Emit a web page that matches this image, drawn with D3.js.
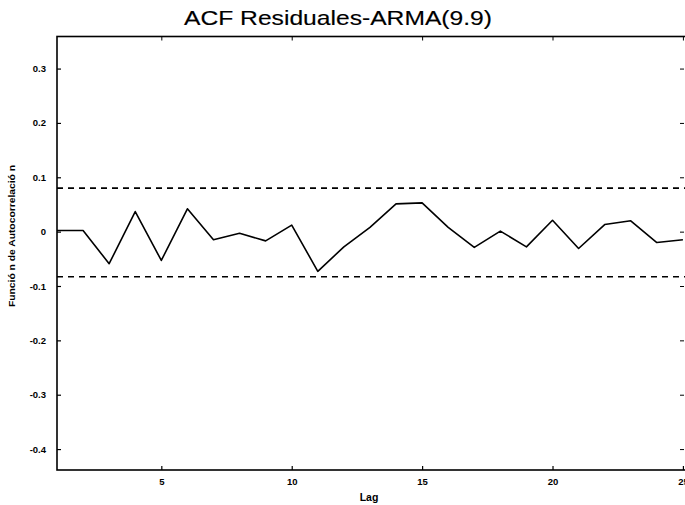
<!DOCTYPE html>
<html>
<head>
<meta charset="utf-8">
<script src="https://cdn.jsdelivr.net/npm/d3@7"></script>
<style>
  body { margin: 0; background: #fff; }
  svg { display: block; }
  .tick-lbl { font-family: "Liberation Sans", Arial, sans-serif; font-weight: bold; font-size: 9.5px; fill: #000; }
</style>
</head>
<body>
<div id="chart"></div>
<script>
// lags and autocorrelation of the residuals
const lags = [1,2,3,4,5,6,7,8,9,10,11,12,13,14,15,16,17,18,19,20,21,22,23,24,25];
const acf = [0.002,0.002,-0.059,0.037,-0.053,0.042,-0.015,-0.003,-0.017,0.012,-0.073,-0.028,0.008,0.051,0.053,0.008,-0.029,0.001,-0.028,0.021,-0.031,0.013,0.020,-0.020,-0.015];
// confidence bounds
const bounds = [0.080, -0.083];
const xTicks = [5, 10, 15, 20, 25];
const yTicks = [0.3, 0.2, 0.1, 0, -0.1, -0.2, -0.3, -0.4];
const yTickLabels = ["0.3", "0.2", "0.1", "0", "-0.1", "-0.2", "-0.3", "-0.4"];

const W = 685, H = 505;
const mLeft = 57, mTop = 36.5, mRight = 685, mBottom = 470;

const svg = d3.select("#chart").append("svg")
  .attr("width", W)
  .attr("height", H);

const x = d3.scaleLinear().domain([1, 25.08]).range([mLeft, mRight]);
const y = d3.scaleLinear().domain([-0.4385, 0.359]).range([mBottom, mTop]);

// title
svg.append("text")
  .attr("x", 338)
  .attr("y", 25)
  .attr("text-anchor", "middle")
  .attr("textLength", 308)
  .attr("lengthAdjust", "spacingAndGlyphs")
  .style("font-family", "Liberation Sans, Arial, sans-serif")
  .style("font-size", "21px")
  .style("stroke", "#000")
  .style("stroke-width", 0.15)
  .text("ACF Residuales-ARMA(9.9)");

// confidence lines
svg.selectAll(".bound")
  .data(bounds)
  .enter().append("line")
  .attr("class", "bound")
  .attr("x1", x(1))
  .attr("x2", mRight)
  .attr("y1", d => y(d))
  .attr("y2", d => y(d))
  .attr("stroke", "#000")
  .attr("stroke-width", 1.6)
  .attr("stroke-dasharray", "6,5");

// acf line
const line = d3.line()
  .x((d, i) => x(lags[i]))
  .y(d => y(d));

svg.append("path")
  .datum(acf)
  .attr("d", line)
  .attr("fill", "none")
  .attr("stroke", "#000")
  .attr("stroke-width", 1.6)
  .attr("stroke-linejoin", "round");

// axes box
svg.append("rect")
  .attr("x", mLeft)
  .attr("y", mTop)
  .attr("width", mRight + 2 - mLeft)
  .attr("height", mBottom - mTop)
  .attr("fill", "none")
  .attr("stroke", "#000")
  .attr("stroke-width", 1.6);

// x ticks (inside, bottom and top)
const xAxisB = d3.axisBottom(x).tickValues(xTicks).tickSize(-4).tickPadding(8).tickFormat(d3.format("d"));
const gx = svg.append("g").attr("transform", `translate(0,${mBottom})`).call(xAxisB);
gx.select(".domain").remove();
gx.selectAll("text").attr("class", "tick-lbl").attr("fill", null);
gx.selectAll("line").attr("stroke-width", 1.2);

const xAxisT = d3.axisTop(x).tickValues(xTicks).tickSize(-4).tickFormat("");
const gxt = svg.append("g").attr("transform", `translate(0,${mTop})`).call(xAxisT);
gxt.select(".domain").remove();

// y ticks (inside, left and right)
const yAxisL = d3.axisLeft(y).tickValues(yTicks).tickSize(-4).tickPadding(11)
  .tickFormat((d, i) => yTickLabels[i]);
const gy = svg.append("g").attr("transform", `translate(${mLeft},0)`).call(yAxisL);
gy.select(".domain").remove();
gy.selectAll("text").attr("class", "tick-lbl").attr("fill", null);
gy.selectAll("line").attr("stroke-width", 1.2);

const yAxisR = d3.axisRight(y).tickValues(yTicks).tickSize(-4).tickFormat("");
const gyr = svg.append("g").attr("transform", `translate(${mRight - 1},0)`).call(yAxisR);
gyr.select(".domain").remove();

// axis labels
svg.append("text")
  .attr("x", (mLeft + mRight) / 2 - 2)
  .attr("y", 501)
  .attr("text-anchor", "middle")
  .attr("class", "tick-lbl")
  .style("font-size", "10.5px")
  .text("Lag");

svg.append("text")
  .attr("transform", "translate(14.5,236) rotate(-90)")
  .attr("text-anchor", "middle")
  .attr("textLength", 142)
  .attr("lengthAdjust", "spacingAndGlyphs")
  .attr("class", "tick-lbl")
  .style("font-size", "9.5px")
  .text("Funció n de Autocorrelació n");
</script>
</body>
</html>
